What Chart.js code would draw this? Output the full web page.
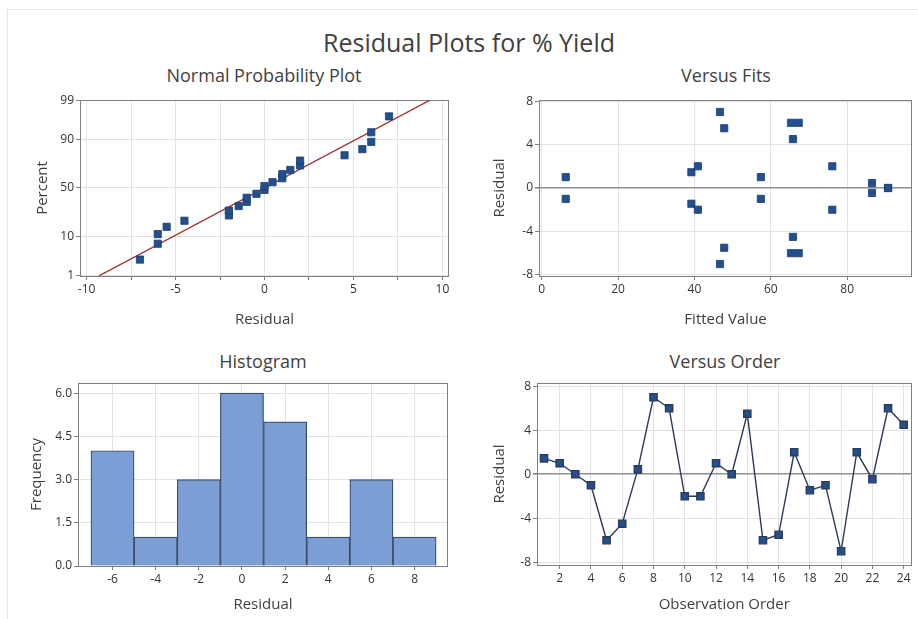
<!DOCTYPE html>
<html>
<head>
<meta charset="utf-8">
<script src="https://cdn.jsdelivr.net/npm/chart.js@4.4.1/dist/chart.umd.min.js"></script>
<style>
  body { margin: 0; background: #fff; width: 918px; height: 619px; overflow: hidden; position: relative; font-family: "Open Sans", sans-serif; }
  #edge { position: absolute; left: 7px; top: 9px; width: 930px; height: 630px; border-left: 1px solid #e6e6e6; border-top: 1px solid #e6e6e6; }
  .txt { position: absolute; white-space: nowrap; line-height: 1; color: #3f3f3f; transform: translateX(-50%); }
  #main { font-size: 25px; left: 469px; top: 30px; }
  .sub { font-size: 18px; }
  canvas { position: absolute; }
</style>
</head>
<body>
<div id="edge"></div>
<div class="txt" id="main">Residual Plots for % Yield</div>
<div class="txt sub" style="left:264px;top:66px">Normal Probability Plot</div>
<div class="txt sub" style="left:726px;top:66px">Versus Fits</div>
<div class="txt sub" style="left:263px;top:352px">Histogram</div>
<div class="txt sub" style="left:725px;top:352px">Versus Order</div>

<canvas id="npp" width="440" height="250" style="left:20px;top:85px"></canvas>
<canvas id="fits" width="448" height="250" style="left:470px;top:85px"></canvas>
<canvas id="hist" width="440" height="249" style="left:20px;top:370px"></canvas>
<canvas id="order" width="448" height="249" style="left:470px;top:370px"></canvas>

<script>
// normal probability plot
const npResid = [-7, -6, -6, -5.5, -4.5, -2, -2, -1.45, -1, -1, -0.45, 0, 0, 0.45, 1, 1, 1.45, 2, 2, 4.5, 5.5, 6, 6, 7];
const npPct = [2.9, 7.0, 11.1, 15.2, 19.3, 23.4, 27.5, 31.6, 35.7, 39.8, 43.9, 48.0, 52.0, 56.1, 60.2, 64.3, 68.4, 72.5, 76.6, 80.7, 84.8, 88.9, 93.0, 97.1];
const npLineResid = [-9.3, 9.3];
const npLinePct = [1, 99];
const npPctTicks = [1, 10, 50, 90, 99];
const npResidTicks = [-10, -7.5, -5, -2.5, 0, 2.5, 5, 7.5, 10];

// versus fits
const fitsValue = [6.3, 6.3, 39.2, 39.2, 40.9, 40.9, 46.7, 46.7, 47.8, 47.8, 57.4, 57.4, 65.3, 65.3, 67.3, 67.3, 65.8, 65.8, 76.1, 76.1, 86.5, 86.5, 90.7, 90.7];
const fitsResid = [1, -1, 1.45, -1.45, 2, -2, 7, -7, 5.5, -5.5, 1, -1, 6, -6, 6, -6, 4.5, -4.5, 2, -2, 0.45, -0.45, 0, 0];
const fitsXTicks = [0, 20, 40, 60, 80];
const residTicks = [-8, -4, 0, 4, 8];

// histogram
const histMid = [-6, -4, -2, 0, 2, 4, 6, 8];
const histCount = [4, 1, 3, 6, 5, 1, 3, 1];
const histYTicks = [0, 1.5, 3, 4.5, 6];

// versus order
const obsOrder = [1, 2, 3, 4, 5, 6, 7, 8, 9, 10, 11, 12, 13, 14, 15, 16, 17, 18, 19, 20, 21, 22, 23, 24];
const orderResid = [1.45, 1.0, 0, -1.0, -6.0, -4.5, 0.45, 7.0, 6.0, -2.0, -2.0, 1.0, 0, 5.5, -6.0, -5.5, 2.0, -1.45, -1.0, -7.0, 2.0, -0.45, 6.0, 4.5];
const orderXTicks = [2, 4, 6, 8, 10, 12, 14, 16, 18, 20, 22, 24];

// inverse normal cdf (Acklam) for the probability axis
function probit(p) {
  const a = [-39.69683028665376, 220.9460984245205, -275.9285104469687, 138.3577518672690, -30.66479806614716, 2.506628277459239];
  const b = [-54.47609879822406, 161.5858368580409, -155.6989798598866, 66.80131188771972, -13.28068155288572];
  const c = [-0.007784894002430293, -0.3223964580411365, -2.400758277161838, -2.549732539343734, 4.374664141464968, 2.938163982698783];
  const d = [0.007784695709041462, 0.3224671290700398, 2.445134137142996, 3.754408661907416];
  const lo = 0.02425;
  let q, r;
  if (p < lo) {
    q = Math.sqrt(-2 * Math.log(p));
    return (((((c[0]*q+c[1])*q+c[2])*q+c[3])*q+c[4])*q+c[5]) / ((((d[0]*q+d[1])*q+d[2])*q+d[3])*q+1);
  }
  if (p > 1 - lo) {
    q = Math.sqrt(-2 * Math.log(1 - p));
    return -(((((c[0]*q+c[1])*q+c[2])*q+c[3])*q+c[4])*q+c[5]) / ((((d[0]*q+d[1])*q+d[2])*q+d[3])*q+1);
  }
  q = p - 0.5; r = q * q;
  return (((((a[0]*r+a[1])*r+a[2])*r+a[3])*r+a[4])*r+a[5])*q / (((((b[0]*r+b[1])*r+b[2])*r+b[3])*r+b[4])*r+1);
}

Chart.defaults.font.family = "'Open Sans', sans-serif";
Chart.defaults.color = '#333';

const BLUE = '#22508f';
const GRID = '#e2e2e2';

const framePlugin = {
  id: 'frame',
  beforeDatasetsDraw(chart) {
    const { ctx, chartArea: a } = chart;
    ctx.save();
    ctx.strokeStyle = '#808080';
    ctx.lineWidth = 1;
    ctx.strokeRect(Math.round(a.left) + 0.5, Math.round(a.top) + 0.5, Math.round(a.width) - 1, Math.round(a.height));
    ctx.restore();
  }
};

function zeroGrid(ctx) { return ctx.tick && ctx.tick.value === 0 ? '#8f8f8f' : GRID; }
function zeroWidth(ctx) { return ctx.tick && ctx.tick.value === 0 ? 1.6 : 1; }

function axis(o) {
  return {
    type: 'linear',
    min: o.min, max: o.max,
    offset: false,
    afterBuildTicks: s => { s.ticks = o.ticks.map(v => ({ value: v })); },
    afterFit: s => { if (o.w !== undefined) s.width = o.w; if (o.h !== undefined) s.height = o.h; },
    border: { display: false },
    grid: {
      offset: false,
      color: o.zero ? zeroGrid : GRID,
      lineWidth: o.zero ? zeroWidth : 1,
      tickColor: '#808080', tickLength: 4
    },
    ticks: { font: { size: 12 }, color: '#333', padding: 2, maxRotation: 0, autoSkip: false, callback: o.label || (v => String(v)) },
    title: { display: true, text: o.title, font: { size: 15 }, color: '#3f3f3f', padding: o.tpad }
  };
}

// canvas origin + wanted plot frame, all in page pixels
function panel(id, x0, y0, w, h, box, type, data, xo, yo) {
  xo.h = y0 + h - box.b;
  yo.w = box.l - x0;
  return new Chart(document.getElementById(id), {
    type, data,
    options: {
      responsive: false, animation: false, devicePixelRatio: 1,
      layout: { padding: { top: box.t - y0, right: x0 + w - box.r, left: 0, bottom: 0 } },
      plugins: { legend: { display: false }, tooltip: { enabled: false } },
      scales: { x: axis(xo), y: axis(yo) }
    },
    plugins: [framePlugin]
  });
}

const marker = { pointStyle: 'rect', pointRadius: 5.1, backgroundColor: BLUE, borderColor: '#1a3c6e', borderWidth: 0.8 };

panel('npp', 20, 85, 440, 250, { l: 80, t: 100, r: 449, b: 276 }, 'scatter', {
  datasets: [
    Object.assign({ data: npResid.map((r, i) => ({ x: r, y: probit(npPct[i] / 100) })) }, marker),
    { type: 'line', data: npLineResid.map((r, i) => ({ x: r, y: probit(npLinePct[i] / 100) })),
      borderColor: '#a03232', borderWidth: 1.3, pointRadius: 0, tension: 0 }
  ]
},
  { min: -10.37, max: 10.37, ticks: npResidTicks, title: 'Residual', tpad: { bottom: 6 },
    label: v => (v % 5 === 0 ? String(v) : '') },
  { min: probit(0.0099), max: probit(0.9901), ticks: npPctTicks.map(p => probit(p / 100)), title: 'Percent', tpad: { top: 14 },
    label: (v, i) => String(npPctTicks[i]) });

panel('fits', 470, 85, 448, 250, { l: 539, t: 100, r: 913, b: 276 }, 'scatter', {
  datasets: [Object.assign({ data: fitsValue.map((f, i) => ({ x: f, y: fitsResid[i] })) }, marker)]
},
  { min: -0.7, max: 97, ticks: fitsXTicks, title: 'Fitted Value', tpad: { bottom: 6 } },
  { min: -8.1, max: 8.1, ticks: residTicks, title: 'Residual', tpad: { top: 21 }, zero: true });

panel('hist', 20, 370, 440, 249, { l: 78, t: 383, r: 448, b: 566 }, 'bar', {
  datasets: [{
    data: histMid.map((m, i) => ({ x: m, y: histCount[i] })),
    backgroundColor: '#7b9fd4', borderColor: '#3b4a66', borderWidth: 1.2,
    barPercentage: 1, categoryPercentage: 1
  }]
},
  { min: -7.6, max: 9.55, ticks: histMid, title: 'Residual', tpad: { bottom: 5 } },
  { min: 0, max: 6.35, ticks: histYTicks, title: 'Frequency', tpad: { top: 8 }, label: v => v.toFixed(1) });

panel('order', 470, 370, 448, 249, { l: 537, t: 383, r: 913, b: 565 }, 'line', {
  datasets: [Object.assign({ data: obsOrder.map((o, i) => ({ x: o, y: orderResid[i] })),
    showLine: true, tension: 0 }, marker, { borderColor: '#2b3b58', borderWidth: 1.4 })]
},
  { min: 0.55, max: 24.5, ticks: orderXTicks, title: 'Observation Order', tpad: { bottom: 5 } },
  { min: -8.25, max: 8.3, ticks: residTicks, title: 'Residual', tpad: { top: 21 }, zero: true });
</script>
</body>
</html>
